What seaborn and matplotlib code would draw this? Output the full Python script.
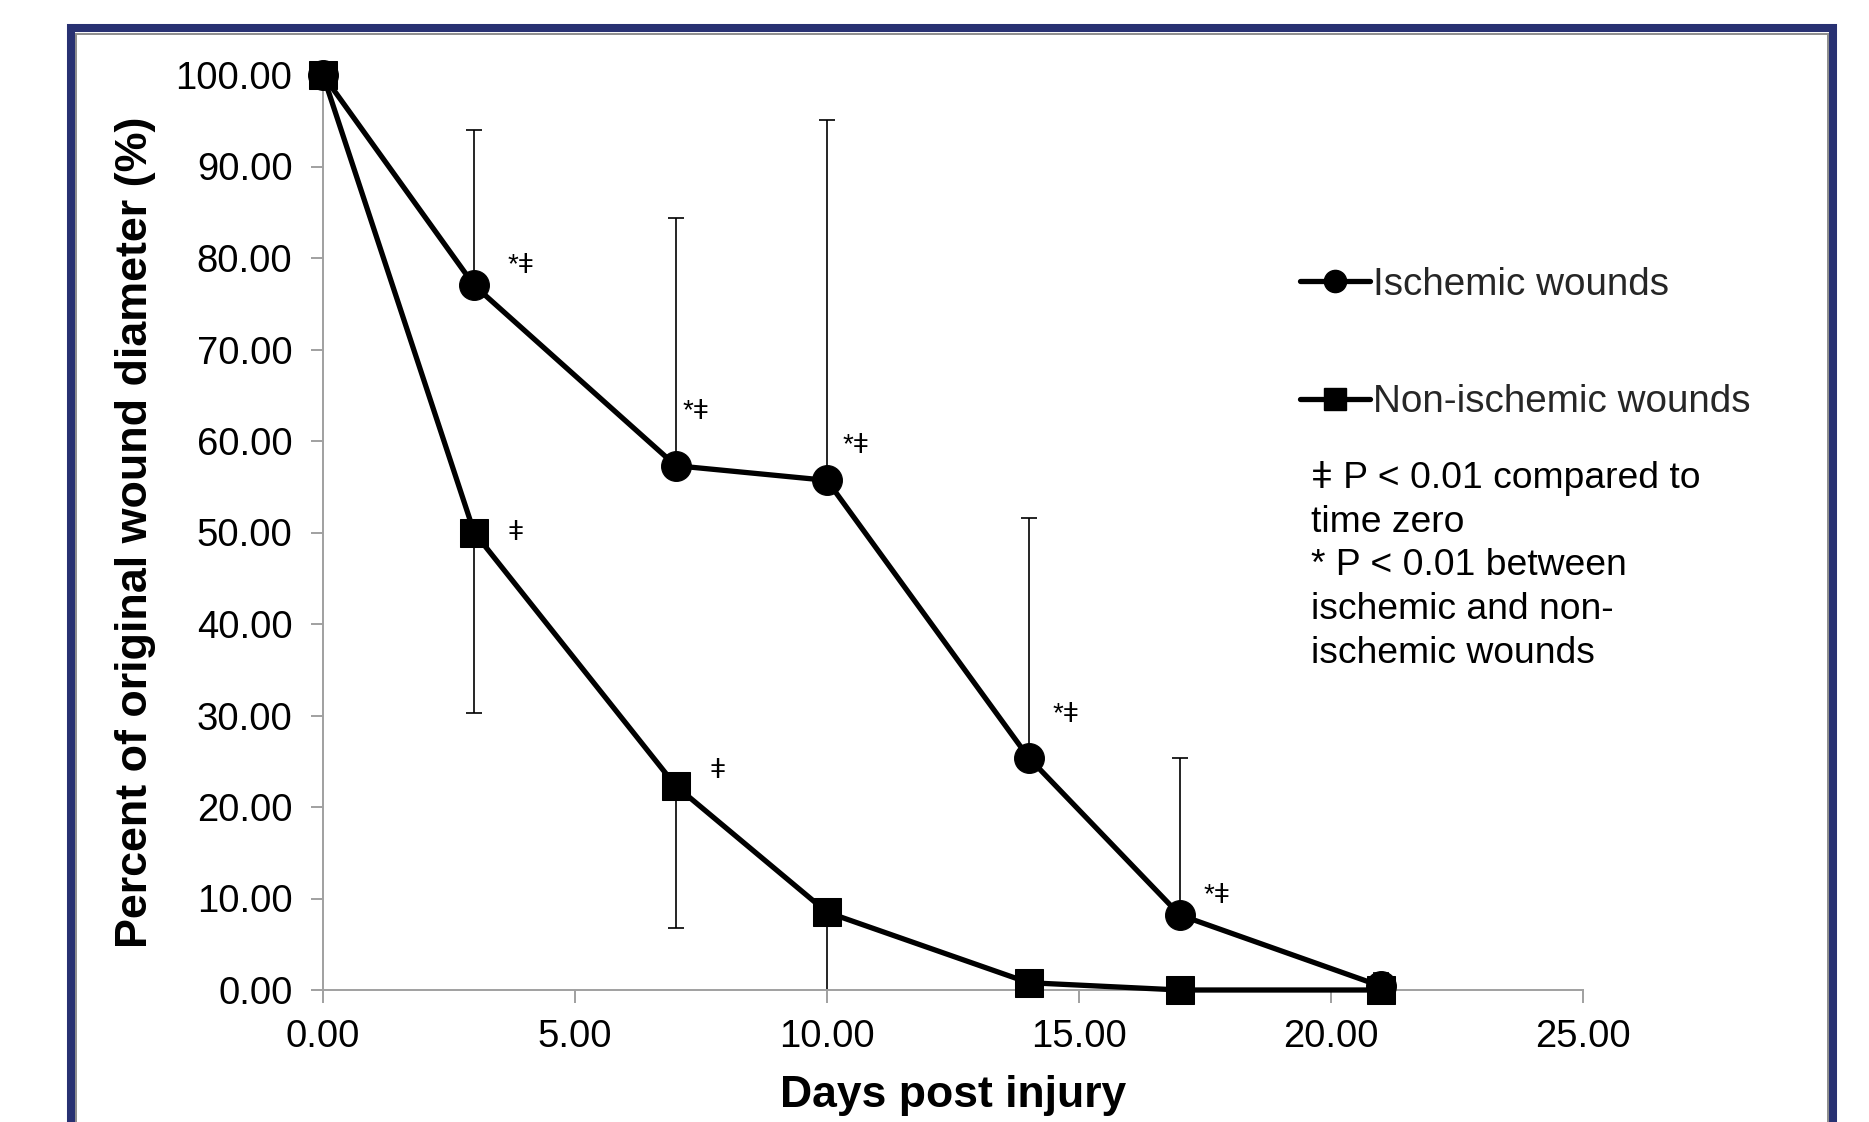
import numpy as np
import pandas as pd
import matplotlib
matplotlib.use("Agg")
import matplotlib.pyplot as plt
import seaborn as sns
from matplotlib.lines import Line2D
from matplotlib.patches import Rectangle

# ---------------- data ----------------
days = [0, 3, 7, 10, 14, 17, 21]
ischemic = [100.0, 77.0, 57.3, 55.7, 25.4, 8.2, 0.4]
ischemic_err_upper = [0.0, 17.0, 27.1, 39.4, 26.2, 17.2, 1.5]
nonischemic = [100.0, 50.0, 22.3, 8.5, 0.8, 0.0, 0.0]
nonischemic_err_lower = [0.0, 19.7, 15.5, 9.5, 1.6, 0.0, 0.0]
series_names = ["Ischemic wounds", "Non-ischemic wounds"]
ischemic_marks = ["", "*ǂ", "*ǂ", "*ǂ", "*ǂ", "*ǂ", ""]
nonischemic_marks = ["", "ǂ", "ǂ", "", "", "", ""]
x_ticks = [0, 5, 10, 15, 20, 25]
y_ticks = [0, 10, 20, 30, 40, 50, 60, 70, 80, 90, 100]
x_label = "Days post injury"
y_label = "Percent of original wound diameter (%)"
footnote = ("ǂ P < 0.01 compared to\ntime zero\n* P < 0.01 between\n"
            "ischemic and non-\nischemic wounds")

# annotation offsets (points) relative to each point
ischemic_mark_offsets = [None, (24, 14), (5, 39), (11, 25), (17, 31), (17, 14), None]
nonischemic_mark_offsets = [None, (24, 0), (24, 11), None, None, None, None]

# ---------------- style ----------------
sns.set_theme(style="white")
plt.rcParams["font.family"] = ["Liberation Sans", "DejaVu Sans"]

W, H = 1869, 1122
fig = plt.figure(figsize=(W / 100, H / 100), dpi=100)
ax = fig.add_axes([323 / W, 1 - 990 / H, 1260 / W, 915 / H])

df = pd.DataFrame({
    "day": days * 2,
    "value": ischemic + nonischemic,
    "group": [series_names[0]] * len(days) + [series_names[1]] * len(days),
})

# error bars (one-sided)
zeros = [0.0] * len(days)
ax.errorbar(days, ischemic, yerr=[zeros, ischemic_err_upper], fmt="none",
            ecolor="black", elinewidth=1.2, capsize=6, capthick=1.2, zorder=2)
ax.errorbar(days, nonischemic, yerr=[nonischemic_err_lower, zeros], fmt="none",
            ecolor="black", elinewidth=1.2, capsize=6, capthick=1.2, zorder=2)

sns.lineplot(data=df, x="day", y="value", style="group",
             markers={series_names[0]: "o", series_names[1]: "s"},
             dashes=False, color="black", linewidth=3.8, markersize=21,
             markeredgecolor="black", ax=ax, legend=False, zorder=3,
             clip_on=False)
for ln in ax.lines:
    if ln.get_marker() == "s":
        ln.set_markersize(19.5)
    elif ln.get_marker() == "o":
        ln.set_markersize(21.5)

# significance marks
for d, v, m, off in zip(days, ischemic, ischemic_marks, ischemic_mark_offsets):
    if m:
        ax.annotate(m, (d, v), xytext=off, textcoords="offset points",
                    ha="left", va="center", fontsize=20, color="black")
for d, v, m, off in zip(days, nonischemic, nonischemic_marks, nonischemic_mark_offsets):
    if m:
        ax.annotate(m, (d, v), xytext=off, textcoords="offset points",
                    ha="left", va="center", fontsize=20, color="black")

# axes
ax.set_xlim(0, 25)
ax.set_ylim(0, 100)
ax.set_xticks(x_ticks)
ax.set_yticks(y_ticks)
ax.set_xticklabels([f"{t:.2f}" for t in x_ticks])
ax.set_yticklabels([f"{t:.2f}" for t in y_ticks])
for s in ["top", "right"]:
    ax.spines[s].set_visible(False)
for s in ["left", "bottom"]:
    ax.spines[s].set_color("#a0a0a0")
    ax.spines[s].set_linewidth(1.4)
ax.tick_params(axis="both", bottom=True, left=True, direction="out", length=9,
               width=1.4, color="#a0a0a0", labelsize=27.5, labelcolor="black")
ax.tick_params(axis="y", pad=13)
ax.tick_params(axis="x", pad=12)
ax.set_xlabel(x_label, fontsize=32, fontweight="bold", labelpad=14, color="black")
ax.set_ylabel(y_label, fontsize=32.3, fontweight="bold", labelpad=14, color="black")
ax.grid(False)

# legend
handles = [
    Line2D([0], [0], color="black", linewidth=3.8, marker="o", markersize=16),
    Line2D([0], [0], color="black", linewidth=3.8, marker="s", markersize=16),
]
ax.legend(handles, series_names, loc="center left",
          bbox_to_anchor=(1300 / W, 1 - 343.5 / H), bbox_transform=fig.transFigure,
          frameon=False, fontsize=27.8, handlelength=1.8, handletextpad=0.08,
          labelspacing=2.1, borderpad=0, borderaxespad=0)

fig.text(1311 / W, 1 - 461 / H, footnote, fontsize=26.8, ha="left", va="top",
         linespacing=1.32, color="black")

# outer frame
fig.patches.append(Rectangle((71 / W, -0.05), (1833 - 71) / W, 1.05 - 28 / H,
                             transform=fig.transFigure, fill=False,
                             edgecolor="#283172", linewidth=5.8, zorder=0))
fig.patches.append(Rectangle((76 / W, -0.05), (1828 - 76) / W, 1.05 - 34 / H,
                             transform=fig.transFigure, fill=False,
                             edgecolor="#8c8c8c", linewidth=1.4, zorder=0))

fig.savefig("out.png", dpi=100, facecolor="white")
